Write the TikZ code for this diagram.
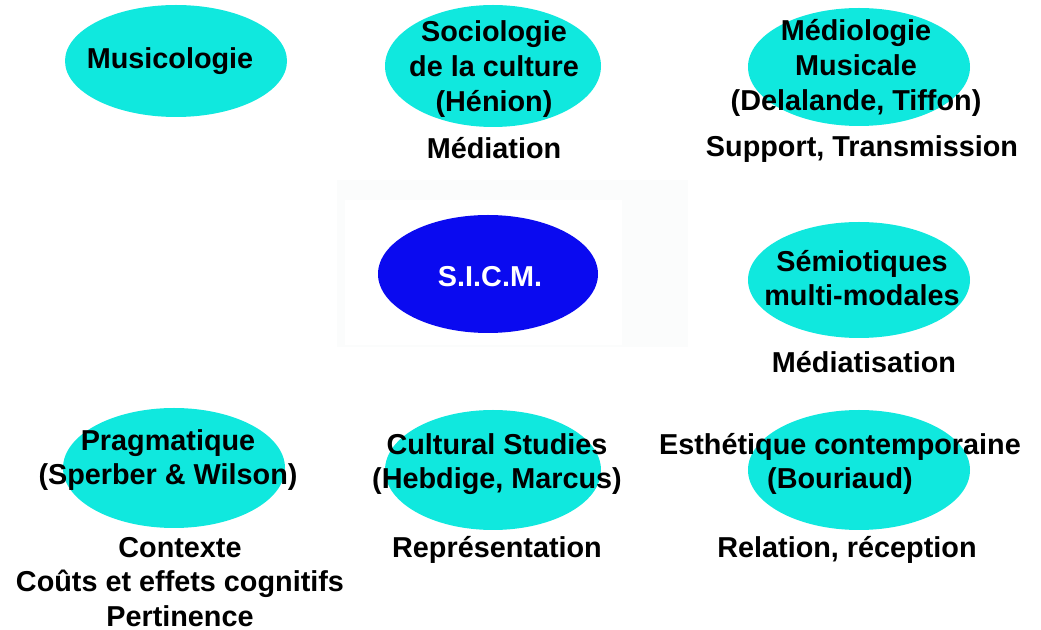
\documentclass[tikz,border=0pt]{standalone}
\usepackage{fontspec}
\setmainfont{Liberation Sans}
\usetikzlibrary{shapes.geometric}
\definecolor{cyanfill}{RGB}{16,232,222}
\definecolor{sicmblue}{RGB}{10,10,240}
\definecolor{faint}{RGB}{251,252,252}
\tikzset{
  blob/.style={ellipse, fill=cyanfill, draw=none, inner sep=0pt, minimum width=111pt, minimum height=59pt},
  lbl/.style={font=\bfseries\fontsize{14.4}{17.3}\selectfont, align=center, text=black, inner sep=0pt},
}
\begin{document}
\begin{tikzpicture}[x=0.5pt, y=-0.5pt]
\useasboundingbox (0,0) rectangle (1041,630);
\fill[white] (0,0) rectangle (1041,630);
% faint backdrop
\fill[faint] (337,180) rectangle (688,347);
\fill[white] (345,200) rectangle (622,345);
% ellipses
\node[blob, minimum width=111pt, minimum height=56pt] (musE) at (176,61) {};
\node[blob, minimum width=108pt, minimum height=61pt] (socE) at (493,66) {};
\node[blob] (medE) at (859,67) {};
\node[blob, fill=sicmblue, minimum width=110pt] (sicm) at (488,274) {};
\node[blob, minimum height=58pt] (semE) at (859,280) {};
\node[blob, minimum height=60pt] (praE) at (174,468) {};
\node[blob, minimum width=108pt, minimum height=60pt] (culE) at (493,470) {};
\node[blob, minimum height=60pt] (estE) at (859,470) {};
% labels
\node[lbl] (mus) at (170,61) {Musicologie};
\node[lbl] (soc) at (494,69) {Sociologie\\de la culture\\(Hénion)};
\node[lbl] (socM) at (494,148) {Médiation};
\node[lbl] (med) at (856,68) {Médiologie\\Musicale\\(Delalande, Tiffon)};
\node[lbl] (medM) at (862,149) {Support, Transmission};
\node[lbl, text=white] (sicmT) at (490,277) {S.I.C.M.};
\node[lbl] (sem) at (862,278) {Sémiotiques\\multi-modales};
\node[lbl] (semM) at (864,362) {Médiatisation};
\node[lbl] (pra) at (168,460) {Pragmatique\\(Sperber \& Wilson)};
\node[lbl] (praM) at (180,582) {Contexte\\Coûts et effets cognitifs\\Pertinence};
\node[lbl] (cul) at (497,464) {Cultural Studies\\(Hebdige, Marcus)};
\node[lbl] (culM) at (497,550) {Représentation};
\node[lbl] (est) at (840,464) {Esthétique contemporaine\\(Bouriaud)};
\node[lbl] (estM) at (847,550) {Relation, réception};
\end{tikzpicture}
\end{document}
